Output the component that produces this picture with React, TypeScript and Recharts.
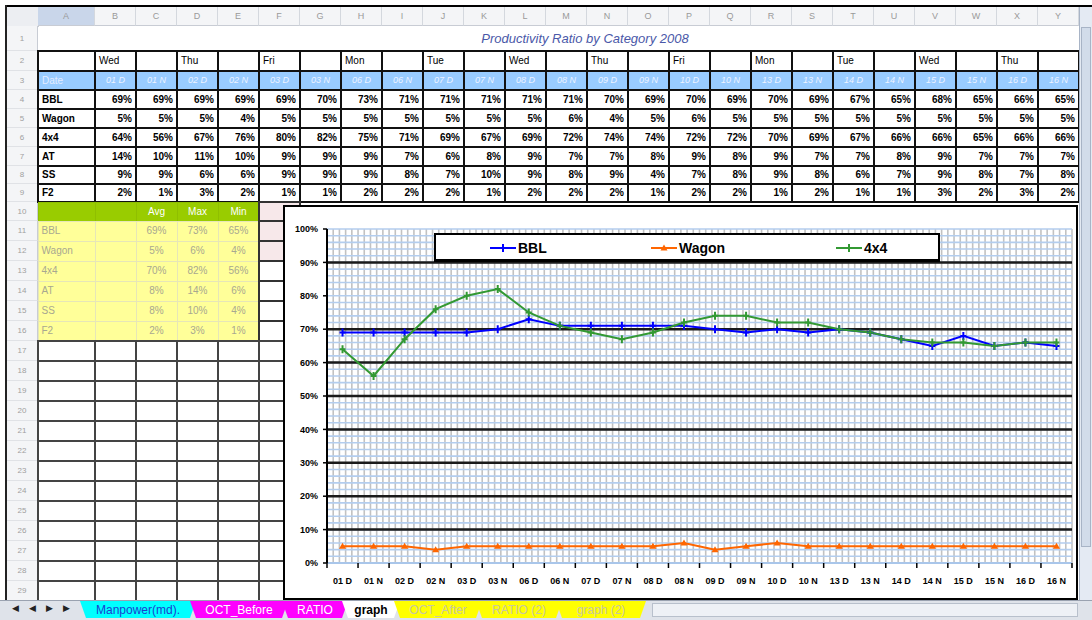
import React from 'react';
import { LineChart, Line, XAxis, YAxis, CartesianGrid, Legend } from 'recharts';

// ---------- data ----------
const LABELS = ['01 D', '01 N', '02 D', '02 N', '03 D', '03 N', '06 D', '06 N', '07 D', '07 N', '08 D', '08 N',
  '09 D', '09 N', '10 D', '10 N', '13 D', '13 N', '14 D', '14 N', '15 D', '15 N', '16 D', '16 N'];
const DAYS = ['Wed', 'Thu', 'Fri', 'Mon', 'Tue', 'Wed', 'Thu', 'Fri', 'Mon', 'Tue', 'Wed', 'Thu'];
const BBL = [69, 69, 69, 69, 69, 70, 73, 71, 71, 71, 71, 71, 70, 69, 70, 69, 70, 69, 67, 65, 68, 65, 66, 65];
const WAGON = [5, 5, 5, 4, 5, 5, 5, 5, 5, 5, 5, 6, 4, 5, 6, 5, 5, 5, 5, 5, 5, 5, 5, 5];
const FOUR_X_FOUR = [64, 56, 67, 76, 80, 82, 75, 71, 69, 67, 69, 72, 74, 74, 72, 72, 70, 69, 67, 66, 66, 65, 66, 66];
const AT = [14, 10, 11, 10, 9, 9, 9, 7, 6, 8, 9, 7, 7, 8, 9, 8, 9, 7, 7, 8, 9, 7, 7, 7];
const SS = [9, 9, 6, 6, 9, 9, 9, 8, 7, 10, 9, 8, 9, 4, 7, 8, 9, 8, 6, 7, 9, 8, 7, 8];
const F2 = [2, 1, 3, 2, 1, 1, 2, 2, 2, 1, 2, 2, 2, 1, 2, 2, 1, 2, 1, 1, 3, 2, 3, 2];
const ROW_NAMES = ['BBL', 'Wagon', '4x4', 'AT', 'SS', 'F2'];
const SERIES_ROWS = [BBL, WAGON, FOUR_X_FOUR, AT, SS, F2];
const LEGEND_ORDER = ['BBL', 'Wagon', '4x4'];
const Y_TICKS = [0, 10, 20, 30, 40, 50, 60, 70, 80, 90, 100];
const MAJOR_GRID = [10, 20, 30, 40, 50, 60, 70, 90];
const MINOR_GRID = Array.from({ length: 51 }, (_, i) => i * 2);
const TITLE = 'Productivity Ratio by Category 2008';
const COL_LETTERS = ['A', 'B', 'C', 'D', 'E', 'F', 'G', 'H', 'I', 'J', 'K', 'L', 'M', 'N', 'O', 'P', 'Q', 'R', 'S', 'T', 'U', 'V', 'W', 'X', 'Y'];
const TABS_LEFT = ['Manpower(md).', 'OCT_Before', 'RATIO', 'graph'];
const TABS_RIGHT = ['OCT_After', 'RATIO (2)', 'graph (2)'];

const chartData = LABELS.map((label, i) => ({ label, BBL: BBL[i], Wagon: WAGON[i], '4x4': FOUR_X_FOUR[i] }));

// ---------- layout ----------
const FONT = '"Liberation Sans", Arial, sans-serif';
const ROW_EDGES = [26, 51, 71, 90, 109, 128, 147, 166, 184, 202, 221, 241, 261, 281, 301, 321, 341, 361, 381, 401, 421, 441, 461, 481, 501, 521, 541, 561, 581, 601];
const A_X = 38;
const A_W = 57;
const C_W = 41;
const MINOR_PER_CAT = 5;
const colX = (i: number) => 95 + i * C_W;
const rowTop = (r: number) => ROW_EDGES[r - 1];
const rowH = (r: number) => ROW_EDGES[r] - ROW_EDGES[r - 1];

function Cell(props: any) {
  const { x, y, w, h, bw = 2, bc = '#111', bg = 'transparent', align = 'flex-end', style = {}, children } = props;
  return (
    <div
      style={{
        position: 'absolute', left: x - bw / 2, top: y - bw / 2, width: w + bw, height: h + bw,
        boxSizing: 'border-box', border: bw ? `${bw}px solid ${bc}` : 'none', background: bg,
        display: 'flex', alignItems: 'center', justifyContent: align, padding: '0 3px',
        fontSize: 10, lineHeight: 1, whiteSpace: 'nowrap', overflow: 'hidden', ...style,
      }}
    >
      {children}
    </div>
  );
}

const crossDot = (color: string) => (p: any) => {
  const { cx, cy, index } = p;
  if (cx == null || cy == null) return <g key={`e${index}`} />;
  return (
    <path key={`c${index}`} d={`M${cx},${cy - 4}V${cy + 4}M${cx - 3},${cy}H${cx + 3}`} stroke={color} strokeWidth={2} fill="none" />
  );
};
const triDot = (color: string) => (p: any) => {
  const { cx, cy, index } = p;
  if (cx == null || cy == null) return <g key={`e${index}`} />;
  return <path key={`t${index}`} d={`M${cx},${cy - 3.5}L${cx + 3.5},${cy + 2.5}L${cx - 3.5},${cy + 2.5}Z`} fill={color} />;
};

const LEGEND_OFFSETS = [56, 217, 402];

const renderLegend = (props: any) => {
  const payload = props.payload || [];
  const ordered = LEGEND_ORDER.map((k) => payload.find((p: any) => p.value === k || p.dataKey === k)).filter(Boolean);
  return (
    <div style={{ position: 'relative', width: 506, height: 29, boxSizing: 'border-box', border: '2px solid #000', borderBottomWidth: 3, background: '#fff', fontFamily: FONT }}>
      {ordered.map((p: any, i: number) => (
        <div key={p.value} style={{ position: 'absolute', left: LEGEND_OFFSETS[i] - 2, top: 4, display: 'flex', alignItems: 'center', height: 18 }}>
          <svg width={26} height={14}>
            <line x1={0} y1={7} x2={26} y2={7} stroke={p.color} strokeWidth={2} />
            {p.value === 'Wagon'
              ? <path d="M13,3.5L16.5,9.5L9.5,9.5Z" fill={p.color} />
              : <path d="M13,3V11M10,7H16" stroke={p.color} strokeWidth={2} />}
          </svg>
          <span style={{ marginLeft: 2, fontSize: 14, fontWeight: 700, color: '#000' }}>{p.value}</span>
        </div>
      ))}
    </div>
  );
};

// minor vertical gridlines / category boundaries: evenly split plot width given by the chart's own offset
const boundaryGen = (offset: any, perCat: number) => {
  const n = LABELS.length * perCat;
  return Array.from({ length: n + 1 }, (_, k) => offset.left + (offset.width * k) / n);
};
const verticalGen = (args: any) => boundaryGen(args.offset, MINOR_PER_CAT);

// x tick: label at band centre, tick marks at band boundaries
const XTick = (p: any) => {
  const { x, y, payload, index, width } = p;
  const half = payload && payload.offset ? payload.offset : (width ? width / LABELS.length / 2 : 0);
  const last = index === LABELS.length - 1;
  return (
    <g>
      <line x1={x - half} x2={x - half} y1={y} y2={y + 5} stroke="#000" strokeWidth={1.5} />
      {last && <line x1={x + half} x2={x + half} y1={y} y2={y + 5} stroke="#000" strokeWidth={1.5} />}
      <text x={x} y={y + 21} textAnchor="middle" fontSize={9} fontWeight={700} fill="#000" fontFamily={FONT}>{payload.value}</text>
    </g>
  );
};

function Chart() {
  return (
    <div style={{ position: 'absolute', left: 283, top: 205, width: 795, height: 395, boxSizing: 'border-box', border: '2px solid #000', background: '#fff', zIndex: 5 }}>
      <LineChart width={791} height={391} data={chartData} margin={{ top: 22, right: 4, left: 0, bottom: 0 }}>
        <XAxis
          dataKey="label" type="category" scale="band" interval={0}
          axisLine={{ stroke: '#a9c6ea', strokeWidth: 2 }} tickLine={false} tickSize={0} tickMargin={0} height={35}
          tick={XTick}
        />
        <YAxis
          domain={[0, 100]} allowDataOverflow ticks={Y_TICKS} interval={0} width={42}
          tickFormatter={(v: number) => `${v}%`} tickSize={4} tickMargin={5}
          tickLine={{ stroke: '#000', strokeWidth: 1.5 }} axisLine={{ stroke: '#000', strokeWidth: 2 }}
          tick={{ fontSize: 9, fontWeight: 700, fill: '#000', fontFamily: FONT }}
        />
        <CartesianGrid horizontal={false} verticalCoordinatesGenerator={verticalGen} stroke="#c2c2c2" strokeWidth={1.6} />
        <CartesianGrid vertical={false} horizontalValues={MINOR_GRID} stroke="#b3cdee" strokeWidth={1.6} />
        <CartesianGrid vertical={false} horizontalValues={MAJOR_GRID} stroke="#1a1a1a" strokeWidth={2.5} />
        <Legend
          layout="horizontal" verticalAlign="middle" align="center" content={renderLegend}
          wrapperStyle={{ left: 149, top: 26, width: 506, height: 29 }}
        />
        <Line dataKey="BBL" stroke="#0000ff" strokeWidth={2} dot={crossDot('#0000ff')} isAnimationActive={false} />
        <Line dataKey="Wagon" stroke="#ff6600" strokeWidth={2} dot={triDot('#ff6600')} isAnimationActive={false} />
        <Line dataKey="4x4" stroke="#339933" strokeWidth={2} dot={crossDot('#339933')} isAnimationActive={false} />
      </LineChart>
    </div>
  );
}

function Sheet() {
  const cells: any[] = [];
  cells.push(<div key="corner" style={{ position: 'absolute', left: 7, top: 7, width: 31, height: 19, background: '#eceef2', borderRight: '1px solid #c8ccd4', borderBottom: '1px solid #c8ccd4' }} />);
  COL_LETTERS.forEach((c, i) => {
    const x = i === 0 ? A_X : colX(i - 1);
    const w = i === 0 ? A_W : C_W;
    cells.push(
      <div key={`ch${c}`} style={{ position: 'absolute', left: x, top: 7, width: w, height: 19, boxSizing: 'border-box', background: i === 0 ? '#c9d6ea' : '#f4f5f7', borderRight: '1px solid #d4d8de', borderBottom: '1px solid #c8ccd4', color: '#9a9a9a', fontSize: 9, display: 'flex', alignItems: 'center', justifyContent: 'center' }}>{c}</div>
    );
  });
  for (let r = 1; r <= 29; r++) {
    cells.push(
      <div key={`rh${r}`} style={{ position: 'absolute', left: 7, top: rowTop(r), width: 31, height: rowH(r), boxSizing: 'border-box', background: '#f4f5f7', borderRight: '1px solid #c8ccd4', borderBottom: '1px solid #e0e2e6', color: '#a0a0a0', fontSize: 8, display: 'flex', alignItems: 'center', justifyContent: 'center' }}>{r}</div>
    );
  }
  cells.push(
    <div key="title" style={{ position: 'absolute', left: 380, top: 31, width: 410, textAlign: 'center', fontSize: 13, fontStyle: 'italic', color: '#4a58a8' }}>{TITLE}</div>
  );
  cells.push(<Cell key="r2a" x={A_X} y={rowTop(2)} w={A_W} h={rowH(2)} />);
  LABELS.forEach((_, i) => {
    cells.push(
      <Cell key={`r2${i}`} x={colX(i)} y={rowTop(2)} w={C_W} h={rowH(2)} align="flex-start">{i % 2 === 0 ? DAYS[i / 2] : ''}</Cell>
    );
  });
  cells.push(<Cell key="r3a" x={A_X} y={rowTop(3)} w={A_W} h={rowH(3)} bg="#99ccff" align="flex-start" style={{ color: '#e4ecff' }}>Date</Cell>);
  LABELS.forEach((l, i) => {
    cells.push(
      <Cell key={`r3${i}`} x={colX(i)} y={rowTop(3)} w={C_W} h={rowH(3)} bg="#99ccff" align="center" style={{ color: '#eef3ff', fontStyle: 'italic', fontSize: 9 }}>{l}</Cell>
    );
  });
  ROW_NAMES.forEach((name, k) => {
    const r = 4 + k;
    cells.push(<Cell key={`n${k}`} x={A_X} y={rowTop(r)} w={A_W} h={rowH(r)} align="flex-start" style={{ fontWeight: 700 }}>{name}</Cell>);
    SERIES_ROWS[k].forEach((v, i) => {
      cells.push(
        <Cell key={`v${k}-${i}`} x={colX(i)} y={rowTop(r)} w={C_W} h={rowH(r)} style={{ fontWeight: 700 }}>{`${v}%`}</Cell>
      );
    });
  });
  const sumCols = [
    { x: A_X, w: A_W }, { x: colX(0), w: C_W }, { x: colX(1), w: C_W }, { x: colX(2), w: C_W }, { x: colX(3), w: C_W },
  ];
  const heads = ['', '', 'Avg', 'Max', 'Min'];
  sumCols.forEach((c, j) => {
    cells.push(
      <Cell key={`gh${j}`} x={c.x} y={rowTop(10)} w={c.w} h={rowH(10)} bw={1} bc="#8fbf00" bg="#99cc00" align="center" style={{ color: '#fff' }}>{heads[j]}</Cell>
    );
  });
  cells.push(<Cell key="ghf" x={colX(4)} y={rowTop(10)} w={C_W} h={rowH(10)} bc="#333" bg="#f7e8ea" />);
  ROW_NAMES.forEach((name, k) => {
    const r = 11 + k;
    const vals = SERIES_ROWS[k];
    const avg = Math.round(vals.reduce((a, b) => a + b, 0) / vals.length);
    const mx = Math.max(...vals);
    const mn = Math.min(...vals);
    const texts = [name, '', `${avg}%`, `${mx}%`, `${mn}%`];
    sumCols.forEach((c, j) => {
      cells.push(
        <Cell key={`s${k}-${j}`} x={c.x} y={rowTop(r)} w={c.w} h={rowH(r)} bw={1} bc="#e6e6b8" bg="#ffff99" align={j === 0 ? 'flex-start' : 'center'} style={{ color: '#a8a890' }}>{texts[j]}</Cell>
      );
    });
    cells.push(<Cell key={`sf${k}`} x={colX(4)} y={rowTop(r)} w={C_W} h={rowH(r)} bc="#333" bg={k < 2 ? '#f7e8ea' : '#fff'} />);
  });
  for (let r = 17; r <= 29; r++) {
    cells.push(<Cell key={`ea${r}`} x={A_X} y={rowTop(r)} w={A_W} h={rowH(r)} bc="#444" />);
    for (let i = 0; i < 5; i++) {
      cells.push(<Cell key={`e${r}-${i}`} x={colX(i)} y={rowTop(r)} w={C_W} h={rowH(r)} bc="#444" />);
    }
  }
  return <>{cells}</>;
}

function TabBar() {
  const tabStyle = (left: number, width: number, bg: string, color: string, bold = false): any => ({
    position: 'absolute', left, top: 601, width, height: 17, background: bg, color,
    fontSize: 12, fontWeight: bold ? 700 : 400, display: 'flex', alignItems: 'center', justifyContent: 'center',
    clipPath: 'polygon(0 0, 100% 0, calc(100% - 6px) 100%, 6px 100%)', whiteSpace: 'nowrap',
  });
  const lefts = [{ x: 80, w: 116, bg: '#00ffff', c: '#1a3fd0' }, { x: 190, w: 98, bg: '#ff00ff', c: '#fff' }, { x: 282, w: 66, bg: '#ff00ff', c: '#fff' }, { x: 342, w: 58, bg: '#fff', c: '#000' }];
  const rights = [{ x: 394, w: 88 }, { x: 476, w: 86 }, { x: 556, w: 90 }];
  return (
    <>
      <div style={{ position: 'absolute', left: 0, top: 600, width: 1092, height: 20, background: '#dfe3ea', borderTop: '1px solid #9aa2b0' }} />
      {['◀', '◀', '▶', '▶'].map((a, i) => (
        <div key={`nav${i}`} style={{ position: 'absolute', left: 12 + i * 17, top: 603, fontSize: 9, color: '#222' }}>{a}</div>
      ))}
      {TABS_LEFT.map((t, i) => (
        <div key={t} style={tabStyle(lefts[i].x, lefts[i].w, lefts[i].bg, lefts[i].c, i === 3)}>{t}</div>
      ))}
      {TABS_RIGHT.map((t, i) => (
        <div key={t} style={tabStyle(rights[i].x, rights[i].w, '#ffff00', '#c8c8a0')}>{t}</div>
      ))}
      <div style={{ position: 'absolute', left: 652, top: 603, width: 426, height: 14, background: '#eef1f6', border: '1px solid #b8c0cc', boxSizing: 'border-box' }} />
    </>
  );
}

export default function App() {
  return (
    <div style={{ position: 'absolute', left: 0, top: 0, width: 1092, height: 620, overflow: 'hidden', background: '#fff', fontFamily: FONT }}>
      <div style={{ position: 'absolute', left: 5, top: 5, width: 1087, height: 2, background: '#000' }} />
      <div style={{ position: 'absolute', left: 5, top: 5, width: 2, height: 596, background: '#222' }} />
      <Sheet />
      <Chart />
      <div style={{ position: 'absolute', left: 1079, top: 7, width: 13, height: 593, background: '#e4eaf3', borderLeft: '1px solid #a8b4c6', boxSizing: 'border-box' }}>
        <div style={{ position: 'absolute', left: 1, top: 20, width: 10, height: 520, background: '#d2dcea', border: '1px solid #a8b4c6', boxSizing: 'border-box' }} />
      </div>
      <TabBar />
    </div>
  );
}
